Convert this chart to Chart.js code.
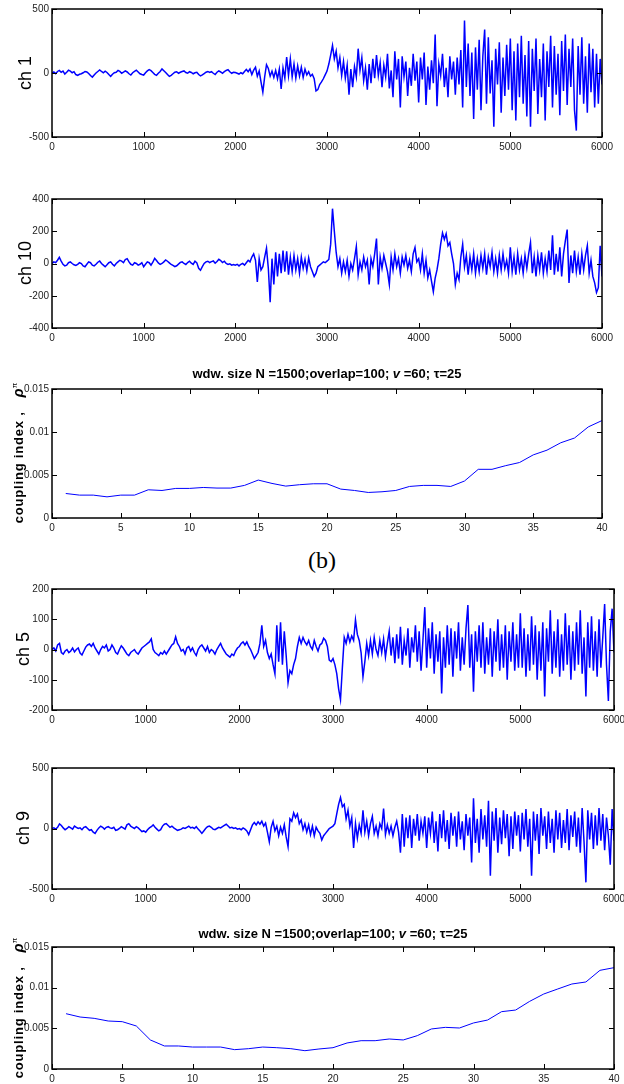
<!DOCTYPE html>
<html><head><meta charset="utf-8">
<script src="https://cdn.jsdelivr.net/npm/chart.js@4"></script>
<style>
html,body{margin:0;padding:0;background:#fff;width:624px;height:1084px;overflow:hidden;position:relative;font-family:'Liberation Sans',Arial,sans-serif;color:#000;}
canvas{position:absolute;left:0;}
.yt{position:absolute;white-space:nowrap;line-height:1;transform:translate(-50%,-50%) rotate(-90deg);font-size:18px;}
.cl{position:absolute;white-space:nowrap;line-height:1;transform:translate(-50%,-50%) rotate(-90deg);font-size:13px;font-weight:bold;}
.cl .t{letter-spacing:0.8px;}
.cl i{font-size:15px;margin-left:14px;}
.cl sup{font-size:8px;font-weight:normal;}
.ttl{position:absolute;white-space:nowrap;line-height:1;transform:translate(-50%,-50%);font-weight:bold;font-size:13px;}
.lab{position:absolute;white-space:nowrap;line-height:1;transform:translate(-50%,-50%);font-family:'Liberation Serif','Times New Roman',serif;font-size:24px;}
</style></head><body>
<canvas id="p1"></canvas>
<canvas id="p2"></canvas>
<canvas id="p3"></canvas>
<canvas id="p4"></canvas>
<canvas id="p5"></canvas>
<canvas id="p6"></canvas>
<div class="yt" style="left:25px;top:73px">ch 1</div>
<div class="yt" style="left:25px;top:263px">ch 10</div>
<div class="cl" style="left:17px;top:453px"><span class="t">coupling index ,</span><i>ρ</i><sup>π</sup></div>
<div class="ttl" style="left:327px;top:373px">wdw. size N =1500;overlap=100; <i>v</i> =60; τ=25</div>
<div class="lab" style="left:322px;top:560px">(b)</div>
<div class="yt" style="left:23px;top:649px">ch 5</div>
<div class="yt" style="left:23px;top:828px">ch 9</div>
<div class="ttl" style="left:333px;top:933px">wdw. size N =1500;overlap=100; <i>v</i> =60; τ=25</div>
<div class="cl" style="left:17px;top:1008px"><span class="t">coupling index ,</span><i>ρ</i><sup>π</sup></div>
<script>
// one value every SAMPLE_STEP samples
const SAMPLE_STEP = 20;

const ch1 = [
0,8,-5,12,20,5,15,-8,6,22, 14,2,10,-12,-18,-10,-6,2,12,8, -4,-20,-32,-15,0,12,24,12,2,14, 4,-12,-26,-10,2,6,20,12,-2,6, 16,8,-6,-16,2,12,22,8,-6,-12,
-16,2,16,26,18,4,-10,-18,-2,12, 32,18,4,-12,-26,-18,-6,6,10,-2, 6,12,16,4,-2,10,4,-6,2,6, -12,-22,-14,-4,6,12,4,10,-2,-12, 6,16,8,-2,10,20,26,10,-2,6,
4,-2,-8,2,-6,12,28,10,32,-12, 22,45,-25,15,-70,-150,-30,65,35,-25, 15,-35,20,-45,30,-125,40,-40,125,-20, 110,-30,70,-40,55,-25,45,-35,30,-15, 10,-25,-10,-45,-140,-130,-90,-70,-45,-15,
15,70,140,215,110,170,40,120,-20,90, -40,60,-170,30,-110,50,-30,190,20,120, -60,40,-130,70,-80,110,-40,140,-20,80, -110,60,-30,150,-120,20,-190,170,-50,110, -270,130,-30,90,-180,40,-100,150,-60,90,
-230,120,-50,160,-250,50,-130,100,-80,300, -260,70,-20,150,-110,40,-190,130,-50,90, -170,120,-90,180,-270,410,-110,230,-180,160, -360,200,-130,260,-290,130,340,-240,280,-160, 100,-420,190,-90,240,-310,120,-180,220,-130,
270,-290,170,-370,230,-190,290,-240,140,-340, 250,-420,190,-140,270,-320,110,-190,230,-370, 170,-110,290,-270,210,-170,150,-330,250,-140, 300,-250,190,-110,270,-290,-450,210,-170,280, -240,130,-310,230,-150,190,-270,150,-240,110, -90
];

const ch10 = [
0,10,5,20,38,15,-5,-15,-10,5, 10,0,-8,-12,-5,5,0,-15,-20,-5, 10,5,-10,-15,-5,8,15,0,-10,-20, -8,5,10,-5,-15,0,10,20,15,5, 25,30,10,-5,-10,5,0,-10,-5,5,
-20,-5,10,5,-10,8,32,18,4,-6, 0,10,22,14,4,-6,-12,-20,-14,-4, 6,10,0,-6,6,14,2,-6,14,4, -30,-42,-20,0,10,14,6,12,16,2, 12,26,18,6,14,0,-6,-2,-10,-6,
-10,-5,-15,-5,0,-10,5,20,10,40, 60,20,-115,30,-40,-20,40,95,-30,-240, 30,-130,70,-80,60,-60,80,-50,75,-70, 40,-50,50,-40,30,-60,40,-30,25,-45, 35,-20,-50,-80,-60,-20,-10,0,10,5,
15,25,120,340,200,70,-20,30,-60,10, -50,20,-80,0,-40,30,105,-70,10,-40, 40,-20,20,-130,30,-20,60,155,-130,40, -30,50,0,-50,-130,40,-40,60,-20,30, -60,40,-10,50,-30,20,-50,60,100,10,
30,-40,60,-60,20,-90,-40,-110,-175,-90, -40,30,120,190,150,185,110,130,60,0, -130,-60,-100,40,120,-20,50,-70,40,-40, 60,-60,30,-50,50,-30,60,-70,40,-20, 70,-50,30,-60,50,-40,60,-30,20,-60,
100,-50,40,-70,60,-40,30,-60,50,-30, 60,130,-60,40,-80,50,-40,70,-60,30, -50,80,-40,175,-70,60,-50,100,-80,60, 140,210,-120,50,-60,80,-50,40,-70,60, -40,50,110,-60,20,-80,-120,-180,-150,110, -80
];

const ch5 = [
0,5,-5,15,20,-10,-15,-5,0,-10, -5,5,-8,0,5,-12,-18,-5,8,15, 18,10,20,5,-5,-15,0,10,5,15, -5,0,15,5,-10,-15,0,12,5,-5, -15,-20,-10,-5,0,-10,-15,-5,5,10,
15,20,25,35,0,-10,-15,-20,-10,-15, -5,-15,-5,5,15,20,42,20,10,-5, 0,-15,5,10,-5,5,-10,-20,0,10, 15,5,-5,10,-10,0,-5,-15,0,10, 20,5,-5,-15,-20,-25,-15,-20,-5,5,
10,20,25,15,25,10,0,-15,-30,-20, -10,20,80,10,30,-10,-30,-15,-50,-80, 80,-40,90,-50,60,-20,-110,-70,-80,-50, -30,10,40,20,40,25,15,30,10,0, 30,10,-5,15,20,37,30,10,-35,-40,
-30,-50,-80,-130,-166,-60,40,20,50,25, 45,30,98,50,30,-10,-90,-40,20,-20, 30,-15,40,0,-20,30,-10,35,-25,20, 60,-20,40,-45,50,-30,75,-50,30,-20, 70,-60,40,-10,80,-40,60,-70,30,140,
-60,70,-30,90,-80,50,-40,60,-145,40, -60,80,-50,70,-90,60,-30,90,-70,40, -50,70,147,-60,50,-140,60,-40,80,-60, 90,-80,40,-50,70,-90,60,-40,100,-70, 50,-60,80,-100,60,-40,90,-70,50,-60,
120,-60,70,-90,50,-70,110,-50,80,-100, 60,-70,90,-155,70,-40,130,-80,60,-60, 100,-90,50,-70,120,-50,80,-100,60,-70, 90,-50,130,-80,40,-155,90,-60,110,-70, 60,-90,100,-60,40,150,-50,-170,60,135, -10
];

const ch9 = [
0,5,-5,10,38,25,5,-10,0,15, 5,-5,20,10,0,5,-10,10,15,0, -15,-10,-30,-40,-15,5,20,10,-5,10, 15,5,0,10,-15,-10,0,15,5,-5, 30,40,20,10,0,15,5,-10,-25,-20,
-30,-10,5,15,30,10,-5,-20,-10,20, 35,40,25,10,20,5,-5,-15,-10,-5, 5,0,10,20,5,10,0,15,-5,-20, -40,-20,0,15,20,10,-5,-10,0,10, 5,15,25,35,20,5,10,0,5,-5,
0,-10,5,-5,-20,-50,-10,30,50,30, 55,35,60,20,45,-30,-110,10,60,-20, 20,-60,10,-40,30,-70,-150,80,60,130, 90,120,40,70,-10,40,-30,30,-50,20, -60,10,-20,-40,-95,-60,-40,-20,0,10,
20,40,120,200,256,180,200,80,150,20, 90,-160,40,-80,30,-40,150,-30,60,-60, 40,100,-40,20,-60,40,0,165,-50,30, -40,20,-60,10,60,-30,-200,120,-150,90, -80,110,-160,80,-60,120,-100,60,-40,100,
-160,90,-40,140,-120,60,-190,120,-80,150, -110,70,-170,130,-60,100,-150,140,-90,60, -180,120,-60,90,-280,250,-120,80,-200,160, -90,110,-150,230,-390,140,-100,170,-200,90, -130,150,-80,120,-230,100,-170,140,-60,110,
-190,130,-90,160,-150,80,-390,140,-100,120, -210,170,-60,100,-170,140,-120,80,-200,150, -90,130,-160,70,-120,160,-180,110,-70,140, -150,90,-200,170,-110,-445,150,-90,130,-170, 110,-140,170,-100,120,-180,90,-60,-300,160, -100
];

// coupling index per window (windows 1..40)
const couplingA = [0.00285,0.00266,0.00266,0.00246,0.00266,0.00266,0.00328,0.0032,0.00344,0.00344,0.00355,0.00348,0.00348,0.00379,0.00441,0.00402,0.00371,0.00387,0.00398,0.00398,0.00336,0.0032,0.00297,0.00305,0.0032,0.00367,0.00379,0.00379,0.00367,0.0043,0.00566,0.00566,0.00609,0.00645,0.00734,0.00789,0.00875,0.0093,0.01059,0.01133];
const couplingB = [0.0068,0.00639,0.00623,0.0059,0.00582,0.00529,0.00357,0.00283,0.00283,0.0027,0.0027,0.0027,0.00238,0.0025,0.0027,0.00262,0.0025,0.00225,0.00246,0.00262,0.0032,0.00348,0.00348,0.00369,0.00357,0.0041,0.00492,0.00512,0.00504,0.00566,0.00602,0.00705,0.00725,0.00832,0.00922,0.00984,0.01045,0.0107,0.01213,0.01246];

const signalXTicks = [0,1000,2000,3000,4000,5000,6000];
const couplingXTicks = [0,5,10,15,20,25,30,35,40];
const ch1YTicks = [-500,0,500];
const ch10YTicks = [-400,-200,0,200,400];
const ch5YTicks = [-200,-100,0,100,200];
const ch9YTicks = [-500,0,500];
const couplingYTicks = [0,0.005,0.01,0.015];

const TICK_FONT = {family:"'Liberation Sans Narrow','Liberation Sans',Arial,sans-serif", size:10};

const framePlugin = {
  id:'frame',
  afterDatasetsDraw(chart){
    const {ctx, chartArea:a, scales:{x,y}} = chart;
    ctx.save();
    ctx.strokeStyle='#000';
    ctx.lineWidth=1;
    ctx.beginPath();
    x.ticks.forEach(t=>{
      const px=Math.round(x.getPixelForValue(t.value))+0.5;
      ctx.moveTo(px,a.top); ctx.lineTo(px,a.top+5);
      ctx.moveTo(px,a.bottom); ctx.lineTo(px,a.bottom-5);
    });
    y.ticks.forEach(t=>{
      const py=Math.round(y.getPixelForValue(t.value))+0.5;
      ctx.moveTo(a.left,py); ctx.lineTo(a.left+5,py);
      ctx.moveTo(a.right,py); ctx.lineTo(a.right-5,py);
    });
    ctx.stroke();
    ctx.lineWidth=1.5;
    ctx.strokeRect(a.left,a.top,a.right-a.left,a.bottom-a.top);
    ctx.restore();
  }
};

function panel(id, top, bottom, right, points, xTicks, yTicks, lw){
  const PADT=12, XH=24;
  const c=document.getElementById(id);
  c.width=624; c.height=bottom-top+PADT+XH;
  c.style.top=(top-PADT)+'px';
  new Chart(c,{
    type:'line',
    data:{datasets:[{data:points,borderColor:'#0000ff',borderWidth:lw,pointRadius:0,fill:false,tension:0}]},
    options:{
      responsive:false, animation:false, devicePixelRatio:1, events:[],
      layout:{padding:{top:PADT,left:0,right:624-right,bottom:0}},
      plugins:{legend:{display:false},tooltip:{enabled:false}},
      scales:{
        x:{type:'linear',min:xTicks[0],max:xTicks[xTicks.length-1],
           grid:{display:false,drawTicks:false},border:{display:false},
           afterBuildTicks:s=>{s.ticks=xTicks.map(v=>({value:v}));},
           afterFit:s=>{s.height=XH;s.paddingLeft=0;s.paddingRight=0;},
           ticks:{autoSkip:false,maxRotation:0,minRotation:0,padding:4,font:TICK_FONT,color:'#222',callback:v=>String(v)}},
        y:{type:'linear',min:yTicks[0],max:yTicks[yTicks.length-1],
           grid:{display:false,drawTicks:false},border:{display:false},
           afterBuildTicks:s=>{s.ticks=yTicks.map(v=>({value:v}));},
           afterFit:s=>{s.width=52;s.paddingTop=0;s.paddingBottom=0;},
           ticks:{autoSkip:false,padding:3,font:TICK_FONT,color:'#222',callback:v=>String(v)}}
      }
    },
    plugins:[framePlugin]
  });
}

const sig = arr => arr.map((v,i)=>({x:i*SAMPLE_STEP,y:v}));
const win = arr => arr.map((v,i)=>({x:i+1,y:v}));

panel('p1', 9, 137, 602, sig(ch1), signalXTicks, ch1YTicks, 1.5);
panel('p2', 199, 328, 602, sig(ch10), signalXTicks, ch10YTicks, 1.5);
panel('p3', 389, 518, 602, win(couplingA), couplingXTicks, couplingYTicks, 1);
panel('p4', 589, 710, 614, sig(ch5), signalXTicks, ch5YTicks, 1.5);
panel('p5', 768, 889, 614, sig(ch9), signalXTicks, ch9YTicks, 1.5);
panel('p6', 947, 1069, 614, win(couplingB), couplingXTicks, couplingYTicks, 1);
</script>
</body></html>
